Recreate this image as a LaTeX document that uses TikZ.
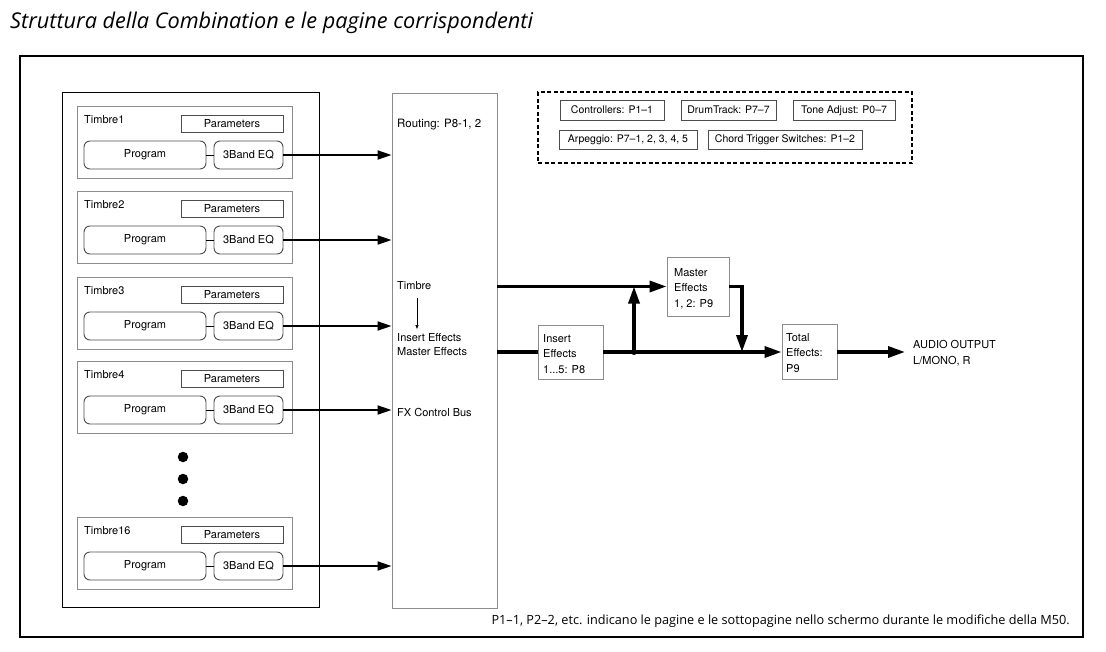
\documentclass[tikz,border=0pt]{standalone}
\usepackage{fontspec}
\setmainfont{TeX Gyre Heros}
\newfontfamily\myriad{Open Sans}
\usetikzlibrary{arrows.meta}
\definecolor{boxgray}{gray}{0.55}
\definecolor{darkgray}{gray}{0.3}
\begin{document}
\begin{tikzpicture}[x=1pt,y=-1pt,
  every node/.style={font=\fontsize{11}{13}\selectfont},
  rbox/.style={draw, inner sep=0pt, line width=0.9pt},
  tbox/.style={rbox, draw=boxgray, minimum width=215pt, minimum height=72pt},
  pbox/.style={rbox, draw=darkgray, minimum width=102pt, minimum height=17pt},
  progbox/.style={rbox, draw=darkgray, rounded corners=6pt, minimum height=28pt},
  lbl/.style={inner sep=0pt, anchor=west},
  fxbox/.style={rbox, draw=boxgray},
  fxtext/.style={inner sep=0pt, anchor=north west, align=left, font=\fontsize{11}{15.5}\selectfont},
  pagebox/.style={rbox, draw=darkgray, minimum height=19pt, font=\fontsize{10.5}{12}\selectfont},
  dotnode/.style={circle, fill=black, inner sep=0pt, minimum size=10.5pt},
  eqarrow/.style={line width=1.8pt, -{Triangle[length=14pt,width=9pt]}},
  bigline/.style={line width=3.4pt},
  bigarrow/.style={bigline, -{Triangle[length=17pt,width=11pt]}},
]
\useasboundingbox (0,0) rectangle (1106,651);

% title
\node[inner sep=0pt, anchor=base west, font=\myriad\itshape\fontsize{21.7}{24}\selectfont] (title) at (10,28) {Struttura della Combination e le pagine corrispondenti};

% outer frame
\node[draw, line width=2.4pt, inner sep=0pt, minimum width=1063pt, minimum height=581pt] (frame) at (551.5,346.5) {};

% left panel
\node[draw, line width=1pt, inner sep=0pt, minimum width=257pt, minimum height=515pt] (panel) at (190.5,349.5) {};

% routing box
\node[rbox, draw=boxgray, minimum width=105pt, minimum height=515pt] (routing) at (444.5,350.5) {};

% timbres
\foreach \a/\n in {155/1,240/2,326/3,410/4,566/16}{
  \node[tbox] (t\n) at (184.5,\a-13) {};
  \node[lbl] (tl\n) at (84,\a-35) {Timbre\n};
  \node[pbox] (par\n) at (232,\a-31.5) {Parameters};
  \node[progbox, minimum width=122pt] (prog\n) at (145,\a) {Program};
  \node[progbox, minimum width=69pt] (eq\n) at (248.5,\a) {3Band EQ};
  \draw[line width=1pt] (prog\n) -- (eq\n);
  \draw[eqarrow] (eq\n.east) -- (eq\n.east -| routing.west);
}

% dots
\node[dotnode] (d1) at (183,457) {};
\node[dotnode] (d2) at (183,479) {};
\node[dotnode] (d3) at (183,501) {};

% routing labels
\node[lbl, font=\fontsize{11.5}{13}\selectfont] (rout) at (397,125) {Routing: P8-1, 2};
\node[lbl] (rt) at (397,286) {Timbre};
\node[lbl, align=left, font=\fontsize{11}{14}\selectfont] (rie) at (397,345) {Insert Effects\\Master Effects};
\node[lbl] (fxc) at (397,412) {FX Control Bus};
\coordinate (ta) at (417,298);
\coordinate (tb) at (417,329);
\draw[line width=0.7pt, -{Triangle[length=4pt,width=3pt]}] (ta) -- (tb);

% dashed box
\node[draw, line width=1.8pt, dash pattern=on 4pt off 2.5pt, inner sep=0pt, minimum width=374pt, minimum height=71pt] (dash) at (725,127.5) {};
\node[pagebox, minimum width=104pt, minimum height=20pt] (ctrl) at (612,110) {Controllers: P1–1};
\node[pagebox, minimum width=95pt, minimum height=20pt] (drum) at (728.5,110) {DrumTrack: P7–7};
\node[pagebox, minimum width=102pt, minimum height=20pt] (tone) at (844,110.5) {Tone Adjust: P0–7};
\node[pagebox, minimum width=138pt] (arp) at (628,139.5) {Arpeggio: P7–1, 2, 3, 4, 5};
\node[pagebox, minimum width=154pt] (chord) at (785,139.5) {Chord Trigger Switches: P1–2};

% effects
\node[fxbox, minimum width=62pt, minimum height=59pt] (master) at (698,286.5) {};
\node[fxtext] (mastert) at (674,268) {Master\\Effects\\1, 2: P9};
\node[fxbox, minimum width=65pt, minimum height=54pt] (insert) at (570.5,352) {};
\node[fxtext] (insertt) at (543,334) {Insert\\Effects\\1...5: P8};
\node[fxbox, minimum width=55pt, minimum height=55pt] (total) at (809.5,352) {};
\node[fxtext] (totalt) at (786,333) {Total\\Effects:\\P9};
\node[inner sep=0pt, anchor=west, align=left, font=\fontsize{11}{16}\selectfont] (audio) at (913,353) {AUDIO OUTPUT\\L/MONO, R};
\node[circle, fill=black, inner sep=0pt, minimum size=6pt] (j) at (634,352) {};
\coordinate (mdrop) at (742,352);
\coordinate (aout) at (905,352);

\draw[bigarrow] (master.west -| routing.east) -- (master.west);
\draw[bigline] (insert.west -| routing.east) -- (insert.west);
\draw[bigarrow] (insert.east) -- (total.west);
\draw[bigarrow] (j.center) -- (j |- master.west);
\draw[bigarrow] (master.east) -| (mdrop);
\draw[bigarrow] (total.east) -- (aout);

% footer
\node[inner sep=0pt, anchor=base east, font=\myriad\fontsize{12.7}{14}\selectfont] (foot) at (1070,624) {P1–1, P2–2, etc. indicano le pagine e le sottopagine nello schermo durante le modifiche della M50.};
\end{tikzpicture}
\end{document}
